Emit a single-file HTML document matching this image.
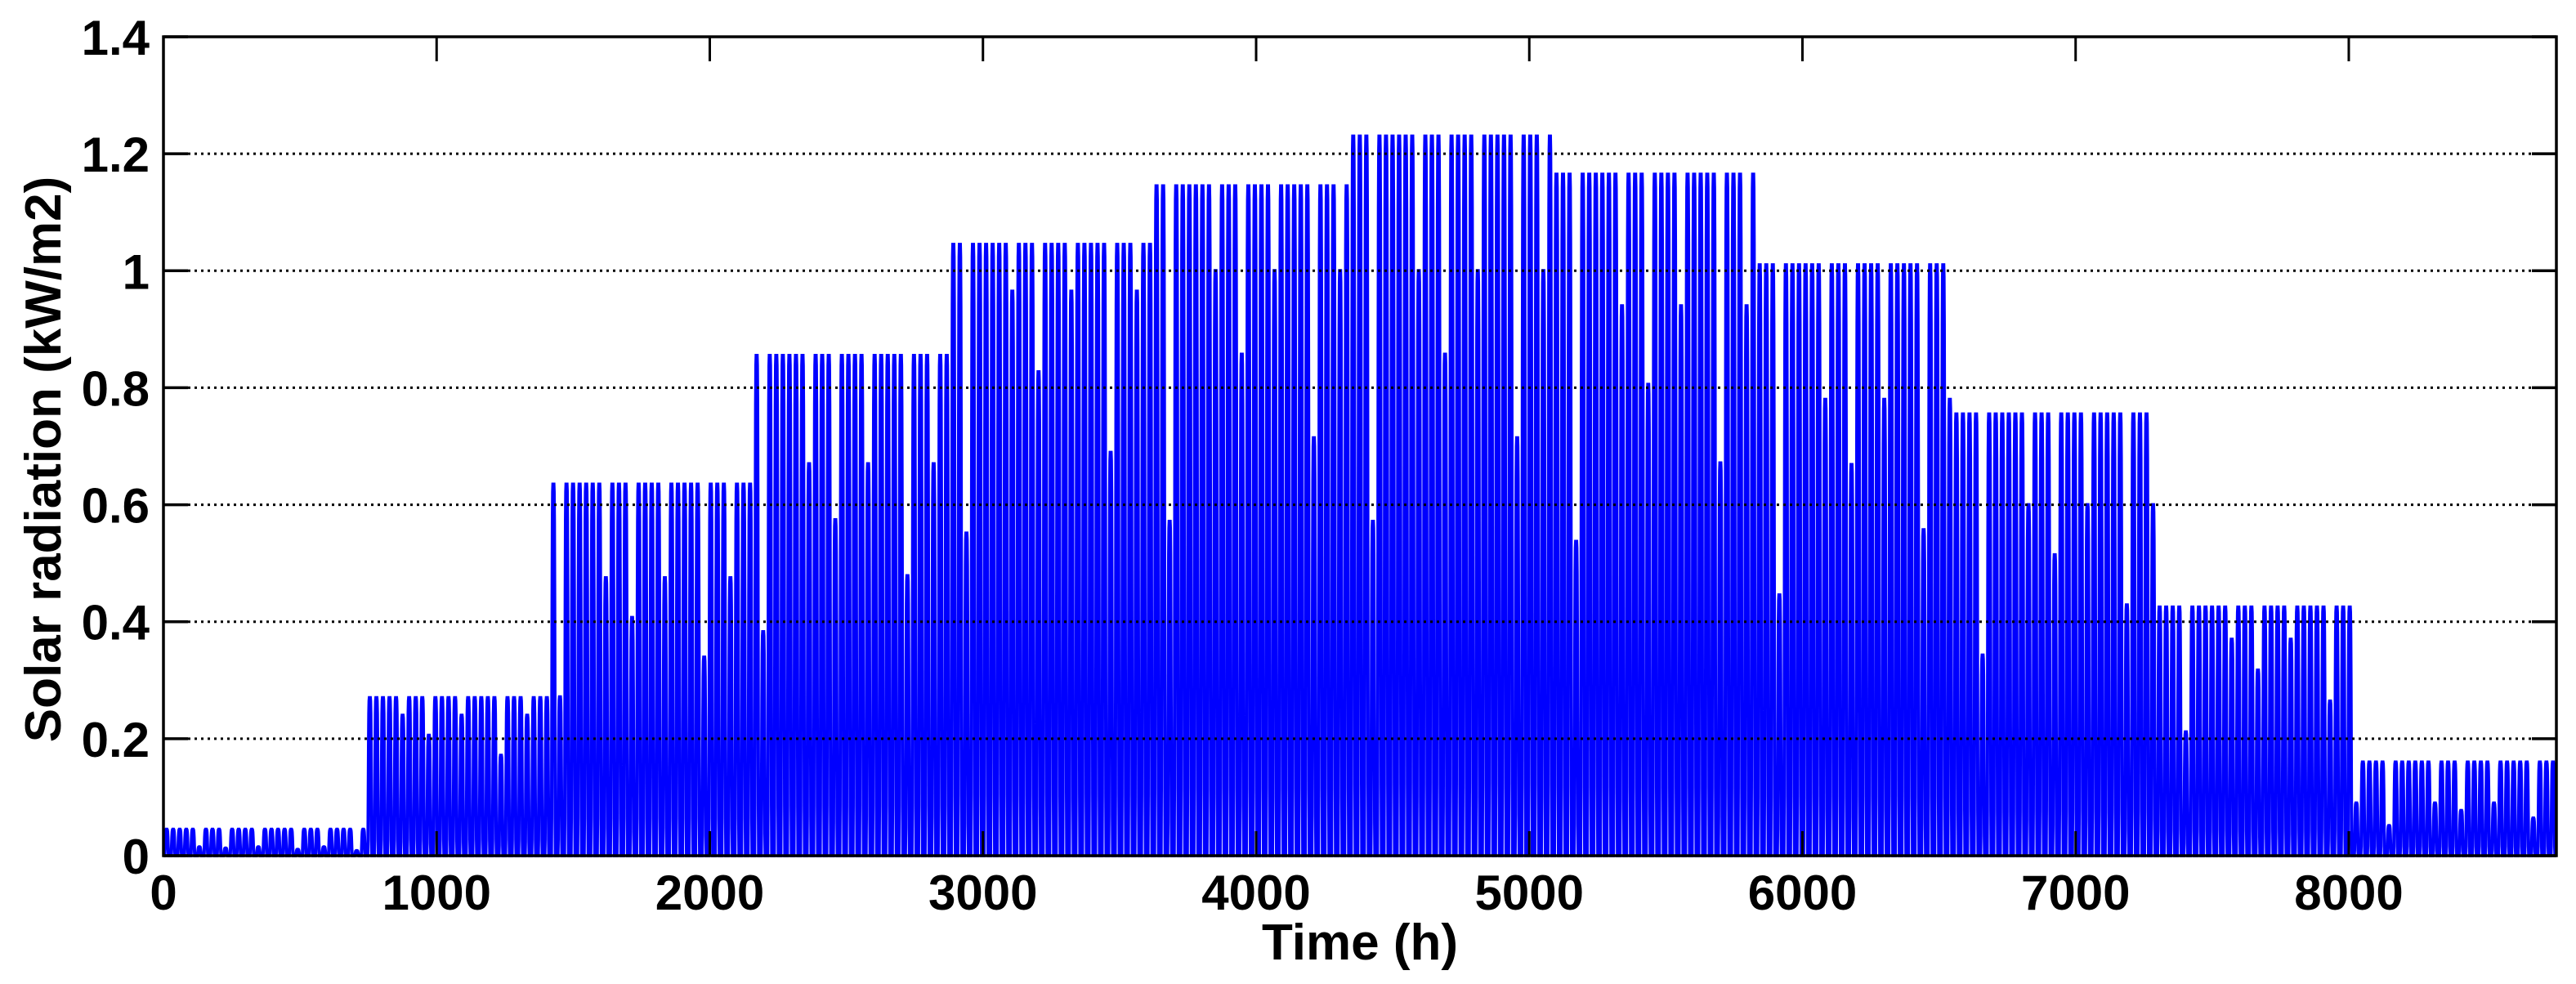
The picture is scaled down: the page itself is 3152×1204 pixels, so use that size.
<!DOCTYPE html>
<html><head><meta charset="utf-8"><style>
html,body{margin:0;padding:0;background:#fff;}
svg{display:block;}
text{font-family:"Liberation Sans",Arial,sans-serif;font-weight:bold;fill:#000;}
</style></head><body>
<svg id="chart" width="3152" height="1204" viewBox="0 0 3152 1204" xmlns="http://www.w3.org/2000/svg">
<rect x="0" y="0" width="3152" height="1204" fill="#fff"/>
<g id="series"></g>
<g id="grid"></g>
<g id="axes"></g>
<text x="1664" y="1174" font-size="62" text-anchor="middle">Time (h)</text>
<text transform="translate(74,562) rotate(-90)" font-size="62" text-anchor="middle">Solar radiation (kW/m2)</text>
</svg>
<script>
// ---- data ----
const monthHours = [744, 672, 744, 720, 744, 720, 744, 744, 720, 744, 720, 744];
const monthPeak  = [0.045, 0.27, 0.635, 0.855, 1.045, 1.145, 1.23, 1.165, 1.01, 0.755, 0.425, 0.16];
const monthAlt   = [0.015, 0.24, 0.475, 0.67, 0.965, 1.0, 1.0, 0.94, 0.78, 0.6, 0.37, 0.09];
const dayLevel   = [1,1,1,1,1,0.9,1,1,1,0.6,1,1,1,1,0.9,1,1,1,1,1,0.5,1,1,1,0.9,1,1,1,1,0.4,1];
const hourShape  = [0,0,0,0,0,0.1,0.4,0.7,0.9,0.98,1,1,1,1,0.98,0.9,0.7,0.4,0.1,0,0,0,0,0];
const xTicks = [0,1000,2000,3000,4000,5000,6000,7000,8000];
const yTicks = [0,0.2,0.4,0.6,0.8,1,1.2,1.4];
const yTickLabels = ["0","0.2","0.4","0.6","0.8","1","1.2","1.4"];

// ---- axes ----
const L=200,R=3128,T=45,B=1047;
const X0=0,X1=8760,Y0=0,Y1=1.4;
const sx=v=>L+(v-X0)/(X1-X0)*(R-L);
const sy=v=>B-(v-Y0)/(Y1-Y0)*(B-T);
const NS="http://www.w3.org/2000/svg";
function mk(tag,attrs,parent){const e=document.createElementNS(NS,tag);for(const k in attrs)e.setAttribute(k,attrs[k]);parent.appendChild(e);return e;}

// ---- series ----
const vals=[];
let dayIdx=0;
for(let m=0;m<monthHours.length;m++){
  const days=monthHours[m]/24;
  for(let d=0;d<days;d++){
    const f=dayLevel[dayIdx%dayLevel.length];dayIdx++;
    const pk = f>=1 ? monthPeak[m] : (f>=0.85 ? monthAlt[m] : monthAlt[m]*f/0.7);
    for(let h=0;h<24;h++){vals.push(Math.min(pk*hourShape[h],monthPeak[m]));}
  }
}
let pts=[];
for(let i=0;i<vals.length;i++){pts.push(sx(i).toFixed(2)+","+sy(vals[i]).toFixed(2));}
const series=document.getElementById('series');
const line=mk('polyline',{points:pts.join(' '),fill:'none',stroke:'#0000ff','stroke-width':4,'stroke-linejoin':'miter','stroke-miterlimit':2},series);



// ---- grid ----
const grid=document.getElementById('grid');
yTicks.forEach((t,i)=>{
  if(t<=Y0||t>=Y1)return;
  const g=mk('line',{x1:L+30,x2:R-30,y1:sy(t),y2:sy(t),stroke:'#000','stroke-width':3,'stroke-dasharray':'3 5'},grid);
  
  
});

// ---- axes ----
const axes=document.getElementById('axes');
const box=mk('rect',{x:L,y:T,width:R-L,height:B-T,fill:'none',stroke:'#000','stroke-width':3.5},axes);


yTicks.forEach((t,i)=>{
  const y=sy(t);
  const a=mk('line',{x1:L,x2:L+30,y1:y,y2:y,stroke:'#000','stroke-width':3.5},axes);
  
  
  const b=mk('line',{x1:R-30,x2:R,y1:y,y2:y,stroke:'#000','stroke-width':3.5},axes);
  
  
  const tx=mk('text',{x:183,y:y+22,'font-size':60,'text-anchor':'end'},axes);
  tx.textContent=yTickLabels[i];
  
  
});
xTicks.forEach(t=>{
  const x=sx(t);
  const a=mk('line',{x1:x,x2:x,y1:B,y2:B-30,stroke:'#000','stroke-width':3},axes);
  
  
  const b=mk('line',{x1:x,x2:x,y1:T,y2:T+30,stroke:'#000','stroke-width':3},axes);
  
  
  const tx=mk('text',{x:x,y:1113,'font-size':60,'text-anchor':'middle'},axes);
  tx.textContent=String(t);
  
  
});
</script>
</body></html>
